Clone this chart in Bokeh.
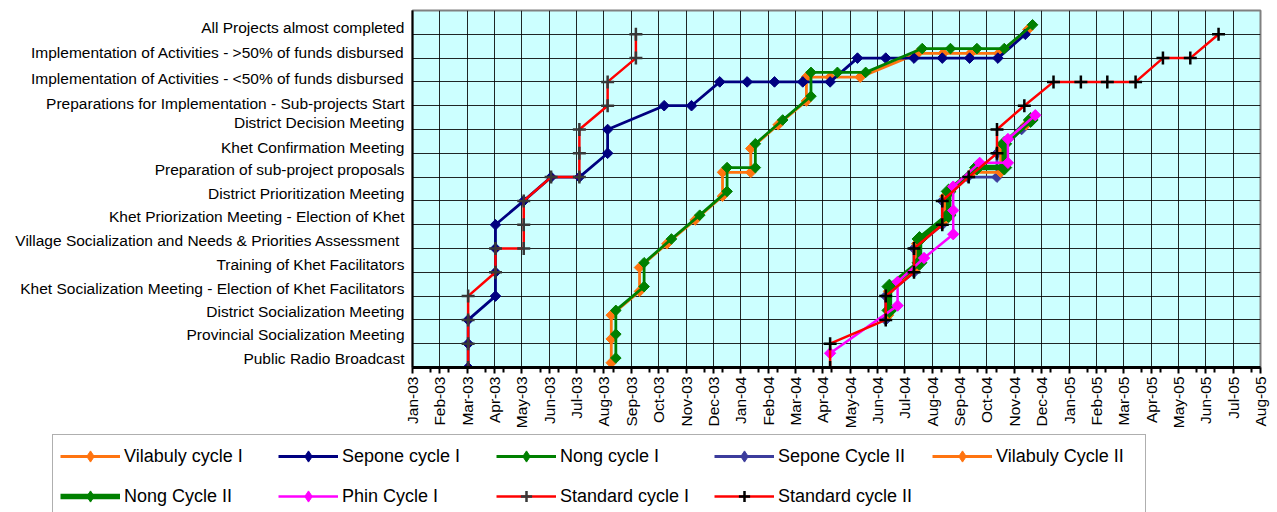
import math
import pandas as pd
from bokeh.plotting import figure
from bokeh.layouts import column
from bokeh.models import (FixedTicker, DatetimeTickFormatter, Legend, LegendItem,
                          Range1d, ColumnDataSource)
from bokeh.embed import file_html
from bokeh.resources import INLINE

# ---------------- data ----------------
STAGES = [
    "Public Radio Broadcast",
    "Provincial Socialization Meeting",
    "District Socialization Meeting",
    "Khet Socialization Meeting - Election of Khet Facilitators",
    "Training of Khet Facilitators",
    "Village  Socialization and Needs & Priorities Assessment",
    "Khet Priorization Meeting - Election of Khet",
    "District Prioritization Meeting",
    "Preparation of sub-project proposals",
    "Khet Confirmation Meeting",
    "District Decision Meeting",
    "Preparations for Implementation - Sub-projects Start",
    "Implementation of Activities - <50% of funds disbursed",
    "Implementation of Activities - >50% of funds disbursed",
    "All Projects almost completed",
]
# vertical placement of each stage label (Excel draws them slightly above the gridline)
STAGE_LABEL_POS = [0.38, 1.38, 2.34, 3.3, 4.34, 5.34, 6.34, 7.3, 8.3, 9.26,
                   10.3, 11.1, 12.13, 13.22, 14.3]

X_START = "2003-01-15"   # axis minimum (labels every 30 days: Jan-03 ... Aug-05)
X_END = "2005-08-02"

VIL1_X = ["2003-08-21", "2003-08-21", "2003-08-21", "2003-09-21", "2003-09-21",
          "2003-10-21", "2003-11-21", "2003-12-21", "2003-12-21", "2004-01-21",
          "2004-01-21", "2004-02-20", "2004-03-22", "2004-03-22", "2004-04-17",
          "2004-05-20", "2004-07-22", "2004-08-19", "2004-09-18", "2004-10-19",
          "2004-11-20"]
VIL1_Y = [0.2, 1.2, 2.2, 3.2, 4.2, 5.2, 6.2, 7.2, 8.2, 8.2, 9.2, 10.2, 11.2, 12.2,
          12.2, 12.2, 13.2, 13.2, 13.2, 13.2, 14.2]

SEP1_X = ["2003-03-17", "2003-03-17", "2003-03-17", "2003-04-16", "2003-04-16",
          "2003-04-16", "2003-04-16", "2003-05-17", "2003-06-16", "2003-07-17",
          "2003-08-17", "2003-08-17", "2003-10-18", "2003-11-17", "2003-12-18",
          "2004-01-17", "2004-02-16", "2004-03-18", "2004-04-17", "2004-05-17",
          "2004-06-17", "2004-07-18", "2004-08-18", "2004-09-17", "2004-10-18",
          "2004-11-17"]
SEP1_Y = [0, 1, 2, 3, 4, 5, 6, 7, 8, 8, 9, 10, 11, 11, 12, 12, 12, 12, 12,
          13, 13, 13, 13, 13, 13, 14]

NONG1_X = ["2003-08-26", "2003-08-26", "2003-08-26", "2003-09-26", "2003-09-26",
           "2003-10-26", "2003-11-26", "2003-12-26", "2003-12-26", "2004-01-26",
           "2004-01-26", "2004-02-25", "2004-03-27", "2004-03-27", "2004-04-25",
           "2004-05-26", "2004-07-27", "2004-08-27", "2004-09-25", "2004-10-25",
           "2004-11-25"]
NONG1_Y = [0.4, 1.4, 2.4, 3.4, 4.4, 5.4, 6.4, 7.4, 8.4, 8.4, 9.4, 10.4, 11.4, 12.4,
           12.4, 12.4, 13.4, 13.4, 13.4, 13.4, 14.4]

SEP2_X = ["2004-06-17", "2004-06-17", "2004-07-18", "2004-07-18", "2004-08-18",
          "2004-08-18", "2004-09-15", "2004-10-17", "2004-10-17", "2004-11-13"]
SEP2_Y = [2, 3, 4, 5, 6, 7, 8, 8, 9, 10]

VIL2_X = ["2004-06-20", "2004-06-20", "2004-07-21", "2004-07-21", "2004-08-21",
          "2004-08-21", "2004-09-20", "2004-10-21", "2004-10-21", "2004-11-18"]
VIL2_Y = [2.2, 3.2, 4.2, 5.2, 6.2, 7.2, 8.2, 8.2, 9.2, 10.2]

NONG2_X = ["2004-06-21", "2004-06-21", "2004-07-24", "2004-07-24", "2004-08-25",
           "2004-08-25", "2004-09-25", "2004-10-25", "2004-10-25", "2004-11-23"]
NONG2_Y = [2.4, 3.4, 4.4, 5.4, 6.4, 7.4, 8.4, 8.4, 9.4, 10.4]

PHIN1_X = ["2004-04-17", "2004-06-30", "2004-06-30", "2004-07-29", "2004-08-30",
           "2004-08-30", "2004-08-30", "2004-09-28", "2004-10-29", "2004-10-29",
           "2004-11-28"]
PHIN1_Y = [0.6, 2.6, 3.6, 4.6, 5.6, 6.6, 7.6, 8.6, 8.6, 9.6, 10.6]

STD1_X = ["2003-03-17", "2003-03-17", "2003-03-17", "2003-03-17", "2003-04-16",
          "2003-04-16", "2003-05-17", "2003-05-17", "2003-05-17", "2003-06-16",
          "2003-07-17", "2003-07-17", "2003-07-17", "2003-08-17", "2003-08-17",
          "2003-09-17", "2003-09-17"]
STD1_Y = [0, 1, 2, 3, 4, 5, 5, 6, 7, 8, 8, 9, 10, 11, 12, 13, 14]

STD2_X = ["2004-04-17", "2004-04-17", "2004-06-17", "2004-06-17", "2004-07-18",
          "2004-07-18", "2004-08-18", "2004-08-18", "2004-09-16", "2004-10-17",
          "2004-10-17", "2004-11-16", "2004-12-18", "2005-01-17", "2005-02-15",
          "2005-03-18", "2005-04-17", "2005-05-17", "2005-06-17"]
STD2_Y = [0, 1, 2, 3, 4, 5, 6, 7, 8, 9, 10, 11, 12, 12, 12, 12, 13, 13, 14]

# ---------------- figure ----------------
FONT = "Liberation Sans"
x0 = pd.Timestamp(X_START)
x1 = pd.Timestamp(X_END)

p = figure(frame_width=848, frame_height=357, x_axis_type="datetime",
           output_backend="svg", toolbar_location=None,
           x_range=Range1d(x0, x1), y_range=Range1d(0, 15),
           min_border_left=412, min_border_right=10, min_border_top=10,
           min_border_bottom=64, background_fill_color="#CCFFFF",
           border_fill_color="white", outline_line_color="#808080",
           outline_line_width=2)
p.frame_align = False

DAY = 86400000
t0 = x0.value // 10**6
n_days = (x1 - x0).days
major = [t0 + d * DAY for d in range(0, n_days + 1, 30)]
minor = [t0 + d * DAY for d in range(0, n_days + 1, 20) if d % 30 != 0]
p.xaxis.ticker = FixedTicker(ticks=major, minor_ticks=minor)
p.xgrid.ticker = FixedTicker(ticks=major)
fmt = "%b-%y"
p.xaxis.formatter = DatetimeTickFormatter(
    microseconds=fmt, milliseconds=fmt, seconds=fmt, minsec=fmt, minutes=fmt,
    hourmin=fmt, hours=fmt, days=fmt, months=fmt, years=fmt)
p.xaxis.major_label_orientation = math.pi / 2
p.xaxis.major_label_text_font = FONT
p.xaxis.major_label_text_font_size = "15.5px"
p.xaxis.major_label_text_color = "black"
p.xaxis.axis_line_width = 3
p.xaxis.axis_line_color = "black"
p.xaxis.major_tick_out = 6
p.xaxis.major_tick_in = 0
p.xaxis.major_tick_line_width = 2
p.xaxis.minor_tick_out = 5
p.xaxis.minor_tick_in = 0
p.xaxis.minor_tick_line_width = 2
p.xaxis.major_label_standoff = 3

p.yaxis.ticker = FixedTicker(ticks=STAGE_LABEL_POS)
p.yaxis.major_label_overrides = {pos: lab for pos, lab in zip(STAGE_LABEL_POS, STAGES)}
p.ygrid.ticker = FixedTicker(ticks=list(range(0, 16)))
p.yaxis.major_tick_out = 0
p.yaxis.major_tick_in = 0
p.yaxis.minor_tick_out = 0
p.yaxis.minor_tick_in = 0
p.yaxis.major_label_standoff = 8
p.yaxis.major_label_text_font = FONT
p.yaxis.major_label_text_font_size = "15.5px"
p.yaxis.major_label_text_color = "black"
p.yaxis.axis_line_width = 2
p.yaxis.axis_line_color = "black"

for g in (p.xgrid, p.ygrid):
    g.grid_line_color = "black"
    g.grid_line_width = 1
    g.grid_line_alpha = 0.85

# legend strip below the chart (Excel legend spans wider than the plot area)
leg = figure(width=1270, height=81, output_backend="svg", toolbar_location=None,
             x_range=Range1d(x0, x1), y_range=Range1d(1000, 1001),
             min_border_left=0, min_border_right=0, min_border_top=0,
             min_border_bottom=0, outline_line_color=None,
             background_fill_color="white", border_fill_color="white")
leg.frame_align = False
leg.xaxis.visible = False
leg.yaxis.visible = False
leg.xgrid.visible = False
leg.ygrid.visible = False

items = []


def series(name, xs, ys, color, lw, marker, msize, mcolor=None, mlw=1.0):
    src = ColumnDataSource(dict(x=pd.to_datetime(xs), y=ys))
    mc = mcolor or color
    p.line("x", "y", source=src, line_color=color, line_width=lw)
    lr = leg.line("x", "y", source=src, line_color=color, line_width=lw)
    if marker == "diamond":
        p.scatter("x", "y", source=src, marker="square", angle=math.pi / 4,
                  size=msize, fill_color=mc, line_color=mc, line_width=mlw)
        # legend swatch (legend glyphs are drawn unrotated, so use the diamond marker)
        lm = leg.scatter("x", "y", source=src, marker="diamond", size=msize,
                         fill_color=mc, line_color=mc, line_width=mlw)
    else:
        p.scatter("x", "y", source=src, marker="cross", size=msize,
                  line_color=mc, line_width=mlw)
        lm = leg.scatter("x", "y", source=src, marker="cross", size=msize,
                         line_color=mc, line_width=mlw)
    items.append(LegendItem(label=name, renderers=[lr, lm]))


ORANGE = "#FF7410"
series("Vilabuly cycle I", VIL1_X, VIL1_Y, ORANGE, 2.8, "diamond", 7.5)
series("Sepone cycle I", SEP1_X, SEP1_Y, "#000080", 2.8, "diamond", 7.5)
series("Nong cycle I", NONG1_X, NONG1_Y, "#008000", 2.8, "diamond", 7.5)
series("Sepone Cycle II", SEP2_X, SEP2_Y, "#3C3C9C", 2.8, "diamond", 7.5)
series("Vilabuly Cycle II", VIL2_X, VIL2_Y, ORANGE, 2.8, "diamond", 7.5)
series("Nong Cycle II", NONG2_X, NONG2_Y, "#008000", 5.5, "diamond", 10.5)
series("Phin Cycle I", PHIN1_X, PHIN1_Y, "#FF00FF", 2.5, "diamond", 8)
series("Standard cycle I", STD1_X, STD1_Y, "#FF0000", 2.5, "cross", 13, "#383838", 2.5)
series("Standard cycle II", STD2_X, STD2_Y, "#FF0000", 2.5, "cross", 13, "#000000", 2.5)

legend = Legend(items=items, location=(52, -6), orientation="horizontal", ncols=5,
                padding=7, spacing=12, glyph_width=60, glyph_height=28,
                label_height=28, label_width=142, label_standoff=4,
                label_text_font=FONT, label_text_font_size="18px",
                label_text_color="black", border_line_color="#606060",
                border_line_width=1, background_fill_color="white",
                background_fill_alpha=1.0, margin=0)
leg.add_layout(legend)

layout = column(p, leg, spacing=0)
open("out.html", "w").write(file_html(layout, INLINE))
